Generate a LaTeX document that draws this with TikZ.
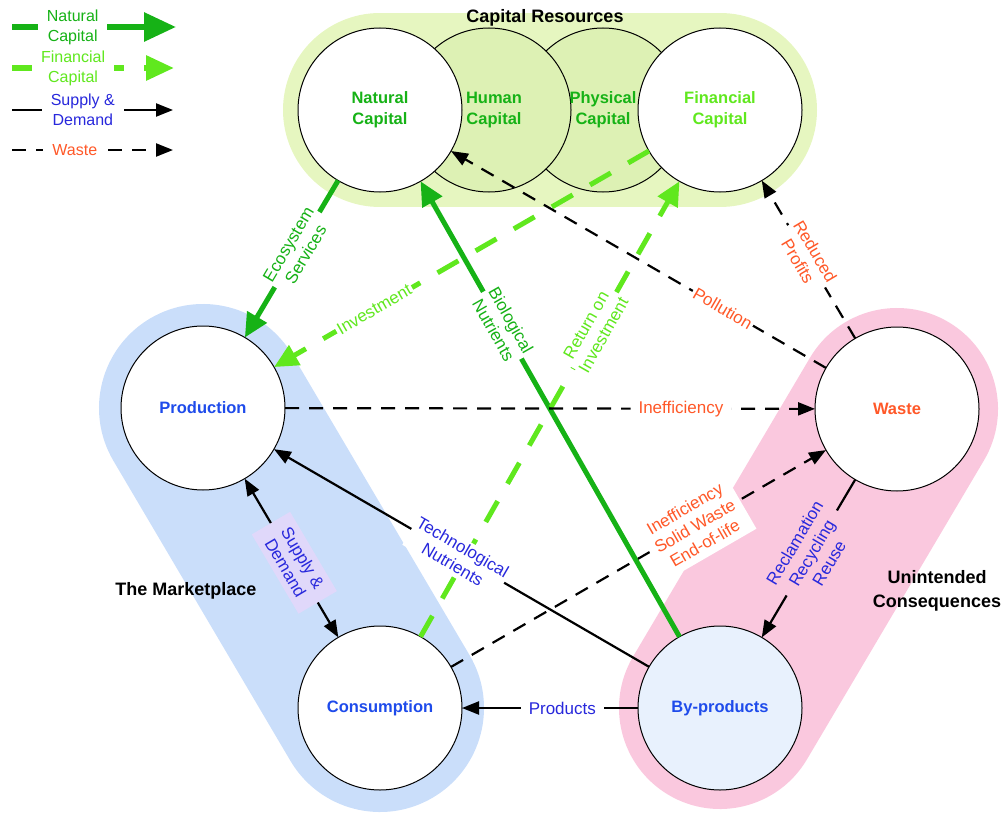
\documentclass[tikz,border=0pt]{standalone}
\usepackage{fontspec}
\setmainfont{Liberation Sans}
\usetikzlibrary{arrows.meta}

\definecolor{dkgreen}{RGB}{22,178,22}
\definecolor{ltgreen}{RGB}{96,232,30}
\definecolor{lblue}{RGB}{30,75,235}
\definecolor{eblue}{RGB}{40,40,220}
\definecolor{orng}{RGB}{255,88,40}
\definecolor{capfill}{RGB}{230,246,192}
\definecolor{capfilltwo}{RGB}{221,241,180}
\definecolor{mktfill}{RGB}{202,222,250}
\definecolor{conseqfill}{RGB}{250,200,222}
\definecolor{byfill}{RGB}{232,241,253}
\definecolor{sdfill}{RGB}{224,216,250}

\begin{document}
\begin{tikzpicture}[x=1pt,y=-1pt,
  circ/.style={circle,draw=black,line width=1pt,minimum size=164pt,inner sep=0pt,outer sep=0pt,fill=white,align=center,font=\fontsize{16.5}{21}\selectfont\bfseries},
  circtext/.style={align=center,font=\fontsize{16.5}{21}\selectfont\bfseries},
  titletext/.style={font=\fontsize{18}{24}\selectfont\bfseries,align=center},
  lab/.style={font=\fontsize{17}{20}\selectfont,align=center,sloped,inner sep=2pt,fill=white},
  legtext/.style={font=\fontsize{16}{20}\selectfont,align=center,fill=white,inner xsep=9pt,inner ysep=1pt},
  natflow/.style={draw=dkgreen,line width=5pt,-{Triangle[length=24pt,width=22pt]}},
  finflow/.style={draw=ltgreen,line width=5pt,dash pattern=on 24pt off 20pt,-{Triangle[length=24pt,width=22pt]}},
  sdflow/.style={draw=black,line width=2.2pt,-{Triangle[length=17pt,width=13pt]}},
  wasteflow/.style={draw=black,line width=2.2pt,dash pattern=on 14pt off 10pt,-{Triangle[length=17pt,width=13pt]}},
  pillband/.style={line cap=round}
]
\useasboundingbox (0,0) rectangle (1001,816);

% centres
\coordinate (cNat) at (380,110);
\coordinate (cFin) at (720,110);
\coordinate (cProd) at (203,408);
\coordinate (cCons) at (380,708);
\coordinate (cWaste) at (897,409);
\coordinate (cBy) at (720,708);

% background pills
\draw[pillband, line width=194pt, capfill] (cNat) -- (cFin);
\draw[pillband, line width=208pt, mktfill] (cProd) -- (cCons);
\draw[pillband, line width=202pt, conseqfill] (cWaste) -- (cBy);

% circles
\node[circ, fill=capfilltwo] (phy) at (603,110) {};
\node[circ, fill=capfilltwo] (hum) at (489,110) {};
\node[circtext, text=dkgreen] (humText) at (494,110) {Human\\Capital};
\node[circtext, text=dkgreen] (phyText) at (phy.center) {Physical\\Capital};
\node[circ, text=dkgreen] (nat) at (cNat) {Natural\\Capital};
\node[circ, text=ltgreen] (fin) at (cFin) {Financial\\Capital};
\node[circ, text=lblue] (prod) at (cProd) {Production};
\node[circ, text=lblue] (cons) at (cCons) {Consumption};
\node[circ, text=orng] (waste) at (cWaste) {Waste};
\node[circ, fill=byfill, text=lblue] (byp) at (cBy) {By-products};

% titles
\node[titletext] (tCap) at (545,18) {Capital Resources};
\node[titletext] (tMkt) at (186,591) {The Marketplace};
\node[titletext] (tUni) at (937,591) {Unintended\\Consequences};

% connectors
\draw[natflow] (nat) -- (prod);
\draw[natflow] (byp) -- (nat);
\draw[finflow] (fin) -- (prod);
\draw[finflow] (cons) -- (fin);
\draw[wasteflow] (waste) -- (nat);
\draw[wasteflow] (waste) -- (fin);
\draw[wasteflow] (prod) -- (waste);
\draw[wasteflow] (cons) -- (waste);
\draw[sdflow] (byp) -- (prod);
\draw[sdflow] (byp) -- (cons);
\draw[sdflow, {Triangle[length=17pt,width=13pt]}-{Triangle[length=17pt,width=13pt]}] (prod) -- (cons);
\draw[sdflow] (waste) -- (byp);

% connector labels
\path (nat) -- (prod) node[lab, text=dkgreen, pos=0.44] (lEco) {Ecosystem\\Services};
\path (byp) -- (nat) node[lab, text=dkgreen, pos=0.684] (lBio) {Biological\\Nutrients};
\path (fin) -- (prod) node[lab, text=ltgreen, pos=0.733] (lInv) {Investment};
\path (cons) -- (fin) node[lab, text=ltgreen, pos=0.673] (lRoi) {Return on\\Investment};
\path (waste) -- (nat) node[lab, text=orng, pos=0.275] (lPol) {Pollution};
\path (waste) -- (fin) node[lab, text=orng, pos=0.52] (lRed) {Reduced\\Profits};
\path (prod) -- (waste) node[lab, text=orng, pos=0.747, inner xsep=8pt] (lIne) {Inefficiency};
\path (cons) -- (waste) node[lab, text=orng, pos=0.65, inner sep=7pt] (lSol) {Inefficiency\\Solid Waste\\End-of-life};
\path (byp) -- (prod) node[lab, text=eblue, pos=0.51] (lTec) {Technological\\Nutrients};
\path (byp) -- (cons) node[lab, text=eblue, pos=0.43, inner xsep=8pt] (lPro) {Products};
\path (prod) -- (cons) node[lab, text=eblue, fill=sdfill, pos=0.53, inner xsep=12pt, inner ysep=6pt] (lSD) {Supply \&\\Demand};
\path (waste) -- (byp) node[lab, text=eblue, fill=conseqfill, pos=0.465] (lRec) {Reclamation\\Recycling\\Reuse};

% legend
\coordinate (lgNa) at (12,27);   \coordinate (lgNb) at (176,27);
\coordinate (lgFa) at (12,68);   \coordinate (lgFb) at (174,68);
\coordinate (lgSa) at (12,110);  \coordinate (lgSb) at (173,110);
\coordinate (lgWa) at (12,150);  \coordinate (lgWb) at (173,150);
\draw[natflow, line width=6pt, -{Triangle[length=32pt,width=28pt]}] (lgNa) -- (lgNb)
  node[legtext, text=dkgreen, pos=0.37] (lgNat) {Natural\\Capital};
\draw[finflow, line width=6pt, -{Triangle[length=28pt,width=24pt]}] (lgFa) -- (lgFb)
  node[legtext, text=ltgreen, pos=0.377] (lgFin) {Financial\\Capital};
\draw[sdflow] (lgSa) -- (lgSb)
  node[legtext, text=eblue, pos=0.44] (lgSD) {Supply \&\\Demand};
\draw[wasteflow] (lgWa) -- (lgWb)
  node[legtext, text=orng, pos=0.39] (lgWas) {Waste};
\end{tikzpicture}
\end{document}
